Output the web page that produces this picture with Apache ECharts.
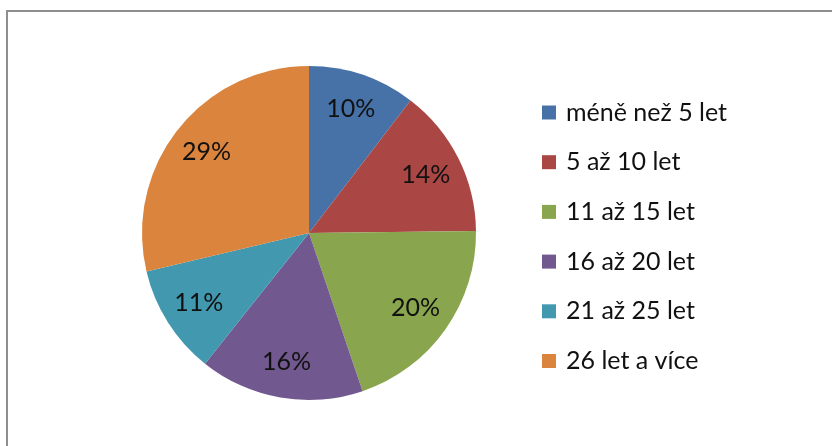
<!DOCTYPE html>
<html>
<head>
<meta charset="utf-8">
<script src="https://cdn.jsdelivr.net/npm/echarts@6/dist/echarts.min.js"></script>
<style>
  html, body { margin: 0; padding: 0; background: #fff; }
  #chart { width: 832px; height: 446px; }
</style>
</head>
<body>
<div id="chart"></div>
<script>
// kategorie a podily (v procentech, odhad z velikosti vysecí)
var categories = ['méně než 5 let', '5 až 10 let', '11 až 15 let', '16 až 20 let', '21 až 25 let', '26 let a více'];
var values = [10.4, 14.4, 20.0, 15.9, 10.6, 28.7];
var colors = ['#4672A8', '#AA4644', '#89A54E', '#71588F', '#4198AF', '#DB843D'];

var fontName = 'Lato, "Open Sans", sans-serif';
var fontSize = 25;

var pieData = [];
for (var i = 0; i < categories.length; i++) {
    pieData.push({ name: categories[i], value: values[i] });
}

var chart = echarts.init(document.getElementById('chart'), null, { renderer: 'canvas' });

var option = {
    backgroundColor: '#fff',
    animation: false,
    color: colors,
    graphic: [
        // ramecek grafu (jen horni a leva hrana je videt)
        { type: 'rect', shape: { x: 6, y: 10, width: 826, height: 2 }, style: { fill: '#8e8e8e' } },
        { type: 'rect', shape: { x: 6, y: 10, width: 2, height: 436 }, style: { fill: '#8e8e8e' } }
    ],
    legend: {
        orient: 'vertical',
        left: 537,
        top: 95,
        itemWidth: 14,
        itemHeight: 14,
        itemGap: 24.7,
        icon: 'rect',
        data: categories,
        textStyle: { fontFamily: fontName, fontSize: fontSize, color: '#111', lineHeight: 24, padding: [0, 0, 0, 5] }
    },
    series: [
        {
            name: 'roky',
            type: 'pie',
            center: [309, 233],
            radius: 167,
            startAngle: 90,
            clockwise: true,
            label: { show: false },
            labelLine: { show: false },
            emphasis: { disabled: true },
            data: pieData
        },
        {
            // pruhledna vrstva jen kvuli umisteni popisku
            name: 'popisky',
            type: 'pie',
            center: [309, 233],
            radius: [88, 167],
            startAngle: 90,
            clockwise: true,
            silent: true,
            itemStyle: { color: 'transparent' },
            label: {
                show: true,
                position: 'inside',
                formatter: function (p) { return Math.round(p.value) + '%'; },
                fontFamily: fontName,
                fontSize: fontSize,
                color: '#111'
            },
            labelLine: { show: false },
            data: pieData
        }
    ]
};

chart.setOption(option);
</script>
</body>
</html>
